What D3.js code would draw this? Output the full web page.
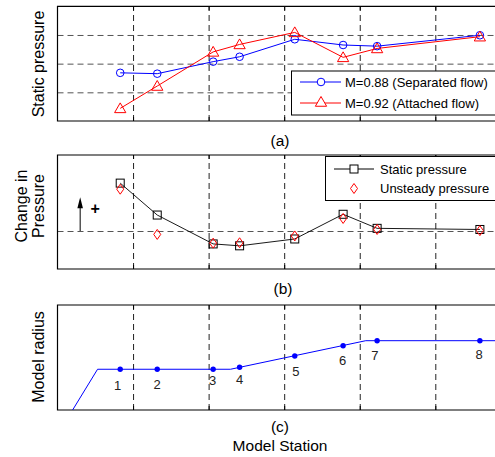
<!DOCTYPE html>
<html>
<head>
<meta charset="utf-8">
<script src="https://cdn.jsdelivr.net/npm/d3@7"></script>
<style>
  body { margin: 0; background: #fff; }
  svg { font-family: "Liberation Sans", Arial, sans-serif; }
</style>
</head>
<body>
<div class="container"></div>
<script>
// three stacked panels sharing the model station axis

const stations = [1, 2, 3, 4, 5, 6, 7, 8];
const stationX = [0.83, 1.32, 2.06, 2.41, 3.14, 3.78, 4.23, 5.59];

// (a) static pressure
const sepFlow = [1.68, 1.65, 2.07, 2.24, 2.85, 2.65, 2.61, 2.99];
const attFlow = [0.44, 1.22, 2.41, 2.67, 3.09, 2.22, 2.53, 2.94];

// (b) change in pressure
const staticChange = [1.26, 0.42, -0.34, -0.39, -0.21, 0.44, 0.07, 0.04];
const unsteadyChange = [1.10, -0.09, -0.32, -0.31, -0.13, 0.33, 0.04, 0.01];

// (c) model radius, profile outline and station dots
const profileX = [0.2, 0.53, 2.29, 4.08, 5.8];
const profileR = [0, 0.388, 0.388, 0.66, 0.66];
const stationR = [0.388, 0.388, 0.388, 0.407, 0.514, 0.612, 0.66, 0.66];

const gridX = [1, 2, 3, 4, 5];

const w = 495, h = 457;
const left = 57.5, right = 495;

const svg = d3.select(".container").append("svg")
  .attr("width", w).attr("height", h);

const x = d3.scaleLinear().domain([0, 5.79]).range([left, right]);

const yA = d3.scaleLinear().domain([0, 4]).range([121, 6.3]);
const yB = d3.scaleLinear().domain([-1, 2]).range([269, 155]);
const yC = d3.scaleLinear().domain([0, 1]).range([410, 305]);

function frame(y, hGrid) {
  const g = svg.append("g");
  const [y0, y1] = y.range();
  // vertical dashed grid
  g.append("g")
    .attr("transform", `translate(0,${y0})`)
    .call(d3.axisBottom(x).tickValues(gridX).tickSize(-(y0 - y1)).tickFormat(""))
    .call(s => s.select(".domain").remove())
    .call(s => s.selectAll("line").attr("stroke", "#222").attr("stroke-dasharray", "6,4"));
  // small solid ticks
  g.append("g").attr("transform", `translate(0,${y0})`)
    .call(d3.axisBottom(x).tickValues(gridX).tickSize(-4).tickFormat(""))
    .call(s => s.select(".domain").remove());
  g.append("g").attr("transform", `translate(0,${y1})`)
    .call(d3.axisTop(x).tickValues(gridX).tickSize(-4).tickFormat(""))
    .call(s => s.select(".domain").remove());
  if (hGrid) {
    g.append("g").attr("transform", `translate(${left},0)`)
      .call(d3.axisLeft(y).tickValues(hGrid).tickSize(-(right - left)).tickFormat(""))
      .call(s => s.select(".domain").remove())
      .call(s => s.selectAll("line").attr("stroke", "#555").attr("stroke-dasharray", "6,4"));
  }
  g.append("path")
    .attr("d", `M${right},${y1}H${left}V${y0}H${right}`)
    .attr("fill", "none").attr("stroke", "#000").attr("stroke-width", 1.2);
  return g;
}

function triangle(s) { return d3.symbol().type(d3.symbolTriangle).size(s)(); }

// ---------- panel (a)
frame(yA, [1, 2, 3]);

const lineA = d3.line().x((d, i) => x(stationX[i])).y(d => yA(d));
svg.append("path").datum(sepFlow).attr("d", lineA)
  .attr("fill", "none").attr("stroke", "#0000ff").attr("stroke-width", 1);
svg.append("path").datum(attFlow).attr("d", lineA)
  .attr("fill", "none").attr("stroke", "#ff0000").attr("stroke-width", 1);

svg.selectAll(".sep").data(sepFlow).join("circle")
  .attr("cx", (d, i) => x(stationX[i])).attr("cy", d => yA(d)).attr("r", 3.8)
  .attr("fill", "none").attr("stroke", "#0000ff");
svg.selectAll(".att").data(attFlow).join("path")
  .attr("d", triangle(55))
  .attr("transform", (d, i) => `translate(${x(stationX[i])},${yA(d) + 1})`)
  .attr("fill", "none").attr("stroke", "#ff0000");

// legend (a)
const legA = svg.append("g");
legA.append("rect").attr("x", 291.5).attr("y", 71).attr("width", 210).attr("height", 44)
  .attr("fill", "#fff").attr("stroke", "#000");
legA.append("line").attr("x1", 300).attr("x2", 341).attr("y1", 82).attr("y2", 82).attr("stroke", "#0000ff");
legA.append("circle").attr("cx", 321).attr("cy", 82).attr("r", 3.8).attr("fill", "#fff").attr("stroke", "#0000ff");
legA.append("line").attr("x1", 300).attr("x2", 341).attr("y1", 103).attr("y2", 103).attr("stroke", "#ff0000");
legA.append("path").attr("d", triangle(55)).attr("transform", "translate(321,103)")
  .attr("fill", "#fff").attr("stroke", "#ff0000");
legA.append("text").attr("x", 345).attr("y", 86.5).attr("font-size", 13).text("M=0.88 (Separated flow)");
legA.append("text").attr("x", 345).attr("y", 107.5).attr("font-size", 13).text("M=0.92 (Attached flow)");

// ---------- panel (b)
frame(yB, [0]);

const lineB = d3.line().x((d, i) => x(stationX[i])).y(d => yB(d));
svg.append("path").datum(staticChange).attr("d", lineB)
  .attr("fill", "none").attr("stroke", "#000").attr("stroke-width", 0.9);
svg.selectAll(".sq").data(staticChange).join("rect")
  .attr("x", (d, i) => x(stationX[i]) - 4).attr("y", d => yB(d) - 4)
  .attr("width", 8).attr("height", 8)
  .attr("fill", "none").attr("stroke", "#000");
svg.selectAll(".dia").data(unsteadyChange).join("path")
  .attr("d", "M0,-5L3.5,0L0,5L-3.5,0Z")
  .attr("transform", (d, i) => `translate(${x(stationX[i])},${yB(d)})`)
  .attr("fill", "none").attr("stroke", "#ff0000");

// arrow and plus
const ax = x(0.3), aTip = yB(0.89);
svg.append("line").attr("x1", ax).attr("x2", ax).attr("y1", yB(0)).attr("y2", aTip + 8)
  .attr("stroke", "#000");
svg.append("path")
  .attr("d", `M${ax},${aTip}L${ax + 2.8},${aTip + 11}L${ax - 2.8},${aTip + 11}Z`)
  .attr("fill", "#000");
svg.append("text").attr("x", x(0.5)).attr("y", yB(0.58) + 5).attr("text-anchor", "middle")
  .attr("font-size", 16).attr("font-weight", "bold").text("+");

// legend (b)
const legB = svg.append("g");
legB.append("rect").attr("x", 325.5).attr("y", 156.5).attr("width", 180).attr("height", 44)
  .attr("fill", "#fff").attr("stroke", "#000");
legB.append("line").attr("x1", 334).attr("x2", 374).attr("y1", 169).attr("y2", 169).attr("stroke", "#000");
legB.append("rect").attr("x", 350).attr("y", 165).attr("width", 8).attr("height", 8)
  .attr("fill", "#fff").attr("stroke", "#000");
legB.append("path").attr("d", "M0,-5L3.5,0L0,5L-3.5,0Z").attr("transform", "translate(354,188.5)")
  .attr("fill", "none").attr("stroke", "#ff0000");
legB.append("text").attr("x", 380).attr("y", 173.5).attr("font-size", 13).text("Static pressure");
legB.append("text").attr("x", 380).attr("y", 193).attr("font-size", 13).text("Unsteady pressure");

// ---------- panel (c)
frame(yC, null);

svg.append("path").datum(profileX)
  .attr("d", d3.line().x(d => x(d)).y((d, i) => yC(profileR[i])))
  .attr("fill", "none").attr("stroke", "#0000ff").attr("stroke-width", 1);
svg.selectAll(".st").data(stationR).join("circle")
  .attr("cx", (d, i) => x(stationX[i])).attr("cy", d => yC(d)).attr("r", 2.7)
  .attr("fill", "#0000ff");
const labelDx = [-2.5, 0, -0.5, 0, 1, -0.5, -2.3, -0.7];
const labelDy = [21, 19.5, 16, 16.5, 19.5, 19, 19.5, 18.5];
svg.selectAll(".stl").data(stations).join("text")
  .attr("x", (d, i) => x(stationX[i]) + labelDx[i])
  .attr("y", (d, i) => yC(stationR[i]) + labelDy[i])
  .attr("text-anchor", "middle").attr("font-size", 13).attr("fill", "#222")
  .text(d => d);

// titles
const titles = [["(a)", 280, 145.5], ["(b)", 283, 293.5], ["(c)", 280, 432], ["Model Station", 280, 451]];
svg.selectAll(".ttl").data(titles).join("text")
  .attr("x", d => d[1]).attr("y", d => d[2]).attr("text-anchor", "middle")
  .attr("font-size", 15.5).text(d => d[0]);

function yLabel(lines, cx, cy) {
  const t = svg.append("text").attr("transform", `translate(${cx},${cy}) rotate(-90)`)
    .attr("text-anchor", "middle").attr("font-size", 16);
  lines.forEach((l, i) => t.append("tspan").attr("x", 0)
    .attr("dy", i === 0 ? 0 : 16.5).text(l));
}
yLabel(["Static pressure"], 43.5, 64);
yLabel(["Change in", "Pressure"], 27, 206);
yLabel(["Model radius"], 43.5, 357);
</script>
</body>
</html>
